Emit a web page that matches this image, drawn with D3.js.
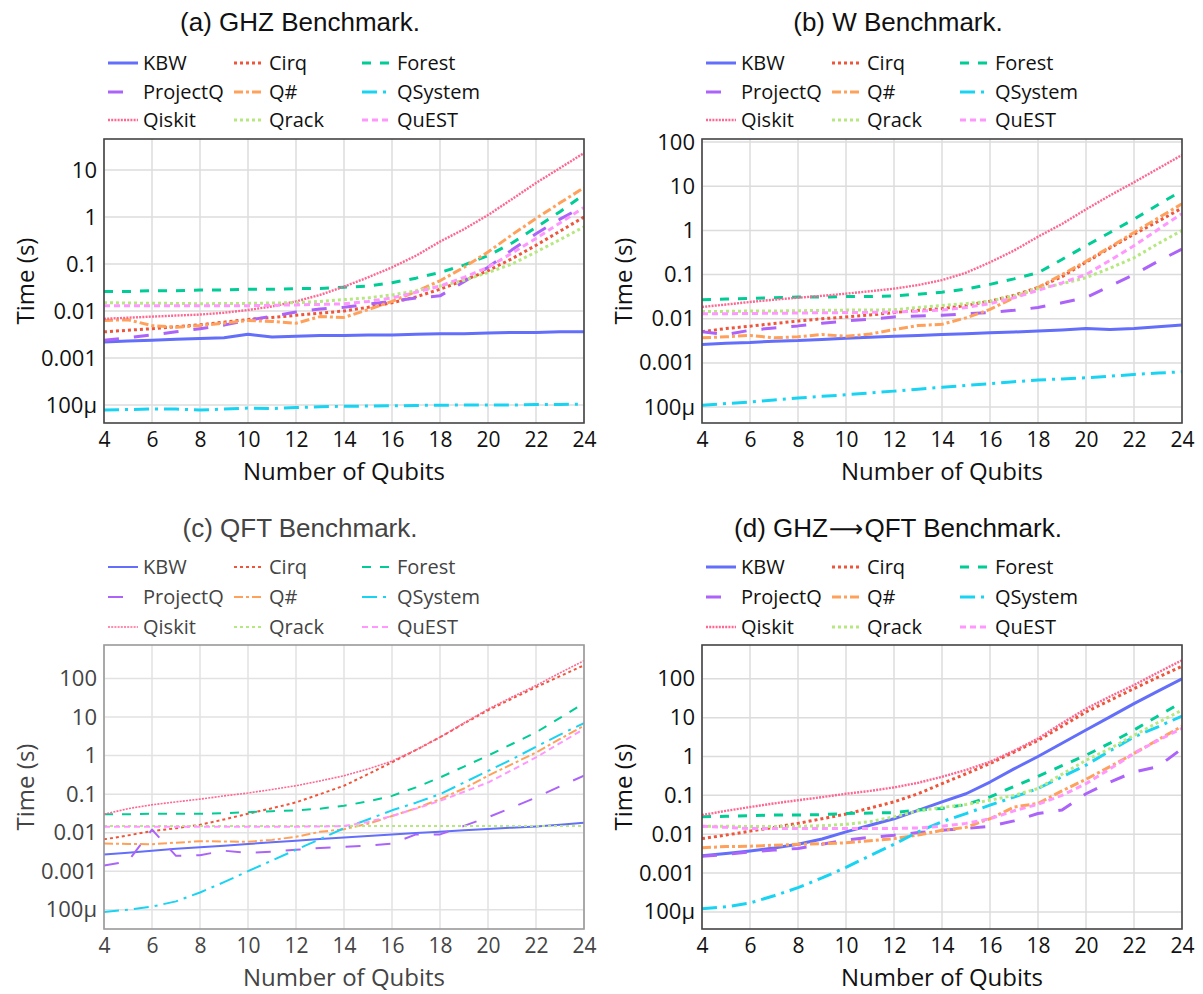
<!DOCTYPE html>
<html><head><meta charset="utf-8">
<script src="https://cdn.jsdelivr.net/npm/d3@7"></script>
<style>body{margin:0;background:#fff}svg{display:block}</style>
</head><body>
<svg id="chart" width="1203" height="994"></svg>
<script>
// ---------- data ----------
const qubits = [4,5,6,7,8,9,10,11,12,13,14,15,16,17,18,19,20,21,22,23,24];
const frameworks = ["KBW","Cirq","Forest","ProjectQ","Q#","QSystem","Qiskit","Qrack","QuEST"];
const yTickValues = [0.0001, 0.001, 0.01, 0.1, 1, 10, 100];
const yTickLabels = ["100µ", "0.001", "0.01", "0.1", "1", "10", "100"];
const xTickValues = [4,6,8,10,12,14,16,18,20,22,24];

// (a) GHZ
const ghzKBW      = [0.0022,0.0023,0.0024,0.0025,0.0026,0.0027,0.0032,0.0028,0.0029,0.0030,0.0030,0.0031,0.0031,0.0032,0.0033,0.0033,0.0034,0.0035,0.0035,0.0036,0.0036];
const ghzCirq     = [0.0036,0.0039,0.0042,0.0046,0.0051,0.0058,0.0066,0.0073,0.0081,0.009,0.010,0.012,0.015,0.02,0.029,0.045,0.072,0.13,0.25,0.5,1.0];
const ghzForest   = [0.026,0.026,0.027,0.027,0.028,0.028,0.029,0.029,0.030,0.030,0.032,0.034,0.040,0.050,0.066,0.095,0.15,0.28,0.6,1.3,3.0];
const ghzProjectQ = [0.0024,0.0027,0.0031,0.0036,0.0042,0.005,0.0064,0.0077,0.0095,0.011,0.012,0.014,0.016,0.019,0.021,0.042,0.085,0.2,0.44,0.9,1.7];
const ghzQsharp   = [0.0063,0.0065,0.0049,0.0045,0.0049,0.0055,0.0063,0.006,0.0055,0.0076,0.0073,0.0107,0.016,0.026,0.044,0.085,0.18,0.42,0.93,2.0,4.2];
const ghzQSystem  = [7.8e-5,8.0e-5,8.2e-5,8.2e-5,7.8e-5,8.2e-5,8.6e-5,8.4e-5,8.8e-5,9.2e-5,9.4e-5,9.5e-5,9.6e-5,9.8e-5,9.9e-5,1.0e-4,1.0e-4,1.0e-4,1.02e-4,1.03e-4,1.04e-4];
const ghzQiskit   = [0.0068,0.0072,0.0076,0.008,0.0084,0.0092,0.0105,0.0125,0.016,0.022,0.033,0.052,0.085,0.15,0.3,0.55,1.1,2.4,5.3,11,23];
const ghzQrack    = [0.015,0.0148,0.0146,0.0145,0.0143,0.0144,0.0145,0.0148,0.015,0.016,0.0175,0.019,0.022,0.027,0.034,0.045,0.066,0.1,0.18,0.33,0.62];
const ghzQuEST    = [0.013,0.013,0.013,0.013,0.013,0.013,0.013,0.0132,0.0135,0.0138,0.0142,0.016,0.019,0.025,0.034,0.052,0.085,0.17,0.35,0.75,1.6];

// (b) W
const wKBW      = [0.0026,0.0028,0.0029,0.0031,0.0032,0.0034,0.0036,0.0038,0.0040,0.0042,0.0044,0.0046,0.0048,0.005,0.0053,0.0056,0.006,0.0057,0.006,0.0066,0.0072];
const wCirq     = [0.0051,0.006,0.0068,0.0078,0.0089,0.01,0.011,0.0122,0.0138,0.0155,0.017,0.02,0.025,0.034,0.051,0.09,0.19,0.4,0.82,1.6,3.2];
const wForest   = [0.027,0.028,0.029,0.03,0.031,0.031,0.032,0.032,0.033,0.036,0.04,0.047,0.06,0.08,0.11,0.22,0.45,0.9,1.8,3.8,8];
const wProjectQ = [0.0051,0.0044,0.0055,0.0062,0.0069,0.0079,0.0089,0.0098,0.011,0.0115,0.012,0.013,0.0138,0.0155,0.018,0.023,0.03,0.055,0.1,0.2,0.38];
const wQsharp   = [0.0037,0.0039,0.0042,0.0037,0.0039,0.0044,0.004,0.0045,0.0057,0.007,0.0075,0.0105,0.0163,0.03,0.051,0.1,0.2,0.42,0.9,1.9,4.0];
const wQSystem  = [1.1e-4,1.2e-4,1.3e-4,1.45e-4,1.6e-4,1.75e-4,1.9e-4,2.1e-4,2.3e-4,2.55e-4,2.8e-4,3.1e-4,3.4e-4,3.75e-4,4.1e-4,4.35e-4,4.6e-4,5.0e-4,5.5e-4,5.9e-4,6.3e-4];
const wQiskit   = [0.0185,0.021,0.024,0.027,0.03,0.033,0.037,0.042,0.048,0.058,0.075,0.11,0.19,0.35,0.72,1.4,3.0,6.2,12.3,25,51];
const wQrack    = [0.0145,0.0147,0.015,0.015,0.0152,0.0155,0.0157,0.0158,0.016,0.018,0.02,0.022,0.025,0.033,0.048,0.062,0.085,0.14,0.24,0.5,1.0];
const wQuEST    = [0.013,0.013,0.0132,0.0133,0.0135,0.0137,0.0138,0.014,0.0142,0.0148,0.0157,0.018,0.022,0.03,0.044,0.065,0.1,0.21,0.45,1.05,2.4];

// (c) QFT
const qftKBW      = [0.0027,0.003,0.0034,0.0038,0.0042,0.0046,0.0051,0.0056,0.0062,0.0068,0.0075,0.0082,0.009,0.0098,0.0106,0.0115,0.0125,0.0135,0.0145,0.016,0.018];
const qftCirq     = [0.0067,0.0085,0.011,0.013,0.016,0.022,0.031,0.043,0.061,0.1,0.165,0.33,0.67,1.4,3.0,6.8,15,30,60,115,220];
const qftForest   = [0.03,0.03,0.031,0.031,0.031,0.032,0.034,0.036,0.038,0.042,0.05,0.065,0.09,0.15,0.27,0.52,1.0,2.0,4.0,9.5,23];
const qftProjectQ = [0.0014,0.0018,0.012,0.0025,0.0026,0.0034,0.003,0.0032,0.0036,0.004,0.0043,0.0046,0.0052,0.009,0.009,0.015,0.025,0.045,0.082,0.16,0.3];
const qftQsharp   = [0.0052,0.0051,0.005,0.0055,0.006,0.0059,0.0058,0.0065,0.0078,0.0105,0.0123,0.017,0.027,0.043,0.074,0.14,0.3,0.6,1.2,2.7,6.0];
const qftQSystem  = [8.7e-5,1.0e-4,1.2e-4,1.65e-4,2.8e-4,5.2e-4,0.001,0.0019,0.0036,0.0068,0.013,0.022,0.038,0.06,0.1,0.2,0.4,0.8,1.7,3.5,7.0];
const qftQiskit   = [0.03,0.042,0.053,0.063,0.074,0.09,0.107,0.132,0.165,0.22,0.3,0.45,0.72,1.4,3.0,7.0,16,33,66,140,290];
const qftQrack    = [0.015,0.015,0.015,0.015,0.015,0.015,0.015,0.015,0.015,0.015,0.015,0.015,0.015,0.015,0.015,0.015,0.015,0.015,0.015,0.015,0.015];
const qftQuEST    = [0.0142,0.0142,0.0142,0.0142,0.0142,0.0142,0.0142,0.0142,0.0143,0.0145,0.0148,0.019,0.027,0.042,0.067,0.115,0.2,0.42,0.9,2.1,4.9];

// (d) GHZ->QFT
const gqKBW      = [0.0028,0.0032,0.0037,0.0044,0.0055,0.0075,0.0115,0.017,0.025,0.041,0.068,0.11,0.22,0.48,1.0,2.2,4.8,10.5,23,48,100];
const gqCirq     = [0.0077,0.0095,0.012,0.015,0.019,0.025,0.033,0.047,0.068,0.11,0.2,0.36,0.66,1.3,2.6,6,14,28,56,110,210];
const gqForest   = [0.028,0.029,0.03,0.031,0.031,0.032,0.034,0.035,0.036,0.042,0.046,0.058,0.091,0.17,0.31,0.58,1.08,2.2,4.8,11,25];
const gqProjectQ = [0.0027,0.003,0.0035,0.0039,0.0043,0.0055,0.0071,0.0083,0.0094,0.011,0.0126,0.014,0.016,0.022,0.034,0.042,0.11,0.22,0.4,0.55,1.6];
const gqQsharp   = [0.0045,0.0048,0.0049,0.0052,0.0055,0.0057,0.006,0.0068,0.0077,0.0095,0.0126,0.015,0.025,0.05,0.062,0.13,0.26,0.55,1.2,2.7,6.0];
const gqQSystem  = [1.2e-4,1.35e-4,1.7e-4,2.6e-4,4.2e-4,7.5e-4,0.0014,0.0028,0.0055,0.0114,0.021,0.034,0.056,0.09,0.15,0.3,0.6,1.4,3.2,5.8,11];
const gqQiskit   = [0.031,0.04,0.05,0.062,0.075,0.09,0.11,0.13,0.16,0.21,0.3,0.45,0.73,1.4,2.9,7.2,17,35,69,145,300];
const gqQrack    = [0.016,0.016,0.0158,0.0158,0.016,0.0165,0.018,0.021,0.028,0.04,0.049,0.058,0.075,0.1,0.15,0.35,0.8,1.6,3.5,7.5,15.6];
const gqQuEST    = [0.016,0.015,0.014,0.014,0.014,0.014,0.014,0.014,0.014,0.0145,0.016,0.019,0.025,0.04,0.059,0.1,0.2,0.48,1.2,2.6,5.3];

// ---------- styles ----------
const colors = {KBW:"#636efa",Cirq:"#EF553B",Forest:"#00cc96",ProjectQ:"#ab63fa","Q#":"#FFA15A",QSystem:"#19d3f3",Qiskit:"#FF6692",Qrack:"#B6E880",QuEST:"#FF97FF"};
const dashes = {KBW:null,Cirq:"3,3",Forest:"9,9",ProjectQ:"15,15","Q#":"9,3,3,3",QSystem:"15,6,3,6",Qiskit:"2,1.2",Qrack:"3,3",QuEST:"6,4"};
const widthScale = {KBW:1,Cirq:1,Forest:1,ProjectQ:1,"Q#":1,QSystem:1,Qiskit:0.8,Qrack:1,QuEST:1};

const panels = [
  {title:["(a) GHZ Benchmark."], ox:0, oy:0, lo:-4.383, hi:1.66, series:[ghzKBW,ghzCirq,ghzForest,ghzProjectQ,ghzQsharp,ghzQSystem,ghzQiskit,ghzQrack,ghzQuEST], lw:3, ink:"#111", frame:"#444", grid:"#dcdcdc"},
  {title:["(b) W Benchmark."], ox:598, oy:0, lo:-4.36, hi:2.07, series:[wKBW,wCirq,wForest,wProjectQ,wQsharp,wQSystem,wQiskit,wQrack,wQuEST], lw:3, ink:"#111", frame:"#444", grid:"#dcdcdc"},
  {title:["(c) QFT Benchmark."], ox:0, oy:506, lo:-4.5, hi:2.87, series:[qftKBW,qftCirq,qftForest,qftProjectQ,qftQsharp,qftQSystem,qftQiskit,qftQrack,qftQuEST], lw:2, ink:"#444", frame:"#999", grid:"#e2e2e2"},
  {title:["(d) GHZ", "\u27F6", "QFT Benchmark."], ox:598, oy:506, lo:-4.44, hi:2.87, series:[gqKBW,gqCirq,gqForest,gqProjectQ,gqQsharp,gqQSystem,gqQiskit,gqQrack,gqQuEST], lw:3, ink:"#111", frame:"#444", grid:"#dcdcdc"}
];

const svg = d3.select("#chart");
const L = 104, R = 584, T = 139, B = 423;

panels.forEach(p => {
  const g = svg.append("g").attr("transform", `translate(${p.ox},${p.oy})`);
  const x = d3.scaleLinear().domain([4,24]).range([L,R]);
  const y = d3.scaleLog().domain([Math.pow(10,p.lo), Math.pow(10,p.hi)]).range([B,T]);
  const yt = yTickValues.filter(v => v >= y.domain()[0] && v <= y.domain()[1]);

  // grid
  g.append("g").selectAll("line").data(xTickValues).join("line")
    .attr("x1", d => x(d)).attr("x2", d => x(d)).attr("y1", T).attr("y2", B)
    .attr("stroke", p.grid).attr("stroke-width", 1.5);
  g.append("g").selectAll("line").data(yt).join("line")
    .attr("y1", d => y(d)).attr("y2", d => y(d)).attr("x1", L).attr("x2", R)
    .attr("stroke", p.grid).attr("stroke-width", 1.5);

  // axes labels
  const xa = g.append("g").attr("transform", `translate(0,${B})`)
    .call(d3.axisBottom(x).tickValues(xTickValues).tickSize(0).tickPadding(9).tickFormat(d3.format("d")));
  xa.select(".domain").remove();
  xa.selectAll("text").attr("font-family","'Open Sans', sans-serif").attr("font-size","21px").attr("fill",p.ink);

  const ya = g.append("g").attr("transform", `translate(${L},0)`)
    .call(d3.axisLeft(y).tickValues(yt).tickSize(0).tickPadding(7)
      .tickFormat(d => yTickLabels[yTickValues.indexOf(d)]));
  ya.select(".domain").remove();
  ya.selectAll("text").attr("font-family","'Open Sans', sans-serif").attr("font-size","22px").attr("fill",p.ink);

  // lines
  const clipId = "clip" + p.ox + "_" + p.oy;
  g.append("clipPath").attr("id", clipId).append("rect").attr("x", L).attr("y", T).attr("width", R-L).attr("height", B-T);
  const line = d3.line().x((d,i) => x(qubits[i])).y(d => y(d));
  const plotG = g.append("g").attr("clip-path", `url(#${clipId})`);
  frameworks.forEach((f, k) => {
    plotG.append("path").datum(p.series[k]).attr("d", line)
      .attr("fill","none").attr("stroke", colors[f])
      .attr("stroke-width", p.lw * widthScale[f])
      .attr("stroke-dasharray", dashes[f])
      .attr("stroke-linejoin","round");
  });

  // frame
  g.append("rect").attr("x", L).attr("y", T).attr("width", R-L).attr("height", B-T)
    .attr("fill","none").attr("stroke", p.frame).attr("stroke-width", 1.6);

  // titles
  const tt = g.append("text").attr("x", 300).attr("y", 31).attr("text-anchor","middle")
    .attr("font-family","'Liberation Sans', Arial, sans-serif").attr("font-size","26px").attr("fill", p.ink);
  p.title.forEach((s, i) => {
    const ts = tt.append("tspan").text(s);
    if (s === "\u27F6") ts.attr("font-family", "'DejaVu Sans', sans-serif").attr("font-size", "24px").attr("dx", "1");
    else if (i > 0) ts.attr("dx", "1");
  });
  g.append("text").attr("x", (L+R)/2).attr("y", B+57).attr("text-anchor","middle")
    .attr("font-family","'Open Sans', sans-serif").attr("font-size","24px").attr("fill", p.ink)
    .text("Number of Qubits");
  g.append("text").attr("transform", `translate(34,${(T+B)/2}) rotate(-90)`).attr("text-anchor","middle")
    .attr("font-family","'Open Sans', sans-serif").attr("font-size","24px").attr("fill", p.ink)
    .text("Time (s)");

  // legend
  const colX = [103, 229, 357];
  const rowY = [p.oy === 0 ? 63 : 61, p.oy === 0 ? 92 : 91, p.oy === 0 ? 120 : 121];
  frameworks.forEach((f, k) => {
    const cx = colX[k % 3], cy = rowY[Math.floor(k / 3)];
    const lg = g.append("g").attr("transform", `translate(${cx},${cy})`);
    lg.append("line").attr("x1", 5).attr("x2", 35).attr("y1", 0).attr("y2", 0)
      .attr("stroke", colors[f]).attr("stroke-width", p.lw * widthScale[f]).attr("stroke-dasharray", dashes[f]);
    lg.append("text").attr("x", 40).attr("y", 0).attr("dy", "0.35em")
      .attr("font-family","'Open Sans', sans-serif").attr("font-size","20px").attr("fill", p.ink)
      .text(f);
  });
});
</script>
</body></html>
